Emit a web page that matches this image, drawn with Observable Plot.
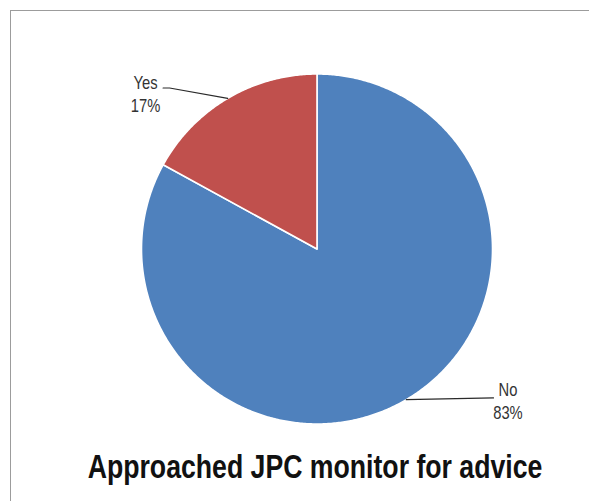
<!DOCTYPE html>
<html>
<head>
<meta charset="utf-8">
<script src="https://cdn.jsdelivr.net/npm/d3@7"></script>
<script src="https://cdn.jsdelivr.net/npm/@observablehq/plot@0.6"></script>
<style>
  body { margin: 0; background: #fff; width: 589px; height: 501px; overflow: hidden; position: relative; }
  #frame { position: absolute; left: 10px; top: 10px; width: 640px; height: 560px; border: 1.5px solid #9c9c9c; box-sizing: border-box; }
  #chart { position: absolute; left: 0; top: 0; }
  #title {
    position: absolute; left: 0; top: 447px; width: 630px; text-align: center;
    font-family: "Liberation Sans", Arial, sans-serif;
    font-weight: bold; font-size: 32.5px; line-height: 40px; color: #111;
    transform: scaleX(0.82); transform-origin: 315px 0;
    white-space: nowrap;
  }
</style>
</head>
<body>
<div id="frame"></div>
<div id="chart"></div>
<div id="title">Approached JPC monitor for advice</div>
<script>
// Responses to "Approached JPC monitor for advice"
const categories = ["No", "Yes"];
const shares = [83, 17];
const sliceColors = ["#4F81BD", "#C0504D"];

// Callout text anchors (unit-circle coordinates) and leader-line bends
const labelSpots = { No: [1.088, -0.969], Yes: [-0.977, 0.783] };
const leaderEnds = { No: [[1.006, -0.851]], Yes: [[-0.84, 0.92], [-0.877, 0.92]] };

const rows = categories.map((name, i) => ({ name, value: shares[i] }));
const arcs = d3.pie().sort(null).value(d => d.value)(rows);

// Polygon outline for each slice: centre, arc samples, back to centre
const slicePts = arcs.flatMap(a => {
  const pts = [{ name: a.data.name, x: 0, y: 0 }];
  const n = Math.max(2, Math.ceil((a.endAngle - a.startAngle) / (Math.PI / 360)));
  for (let k = 0; k <= n; k++) {
    const t = a.startAngle + (a.endAngle - a.startAngle) * k / n;
    pts.push({ name: a.data.name, x: Math.sin(t), y: Math.cos(t) });
  }
  pts.push({ name: a.data.name, x: 0, y: 0 });
  return pts;
});

// Leader lines start on the rim at each slice's mid-angle
const leaderPts = arcs.flatMap(a => {
  const mid = (a.startAngle + a.endAngle) / 2;
  const name = a.data.name;
  return [{ name, x: Math.sin(mid), y: Math.cos(mid) },
          ...leaderEnds[name].map(([x, y]) => ({ name, x, y }))];
});

const labels = arcs.map(a => ({
  name: a.data.name,
  x: labelSpots[a.data.name][0],
  y: labelSpots[a.data.name][1],
  text: `${a.data.name}\n${a.data.value}%`
}));

const chart = Plot.plot({
  width: 589,
  height: 440,
  margin: 0,
  style: { background: "transparent", overflow: "visible" },
  x: { domain: [-1, 1], range: [141, 492], axis: null },
  y: { domain: [-1, 1], range: [423.5, 73.5], axis: null },
  color: { domain: categories, range: sliceColors },
  marks: [
    Plot.line(slicePts, {
      x: "x", y: "y", z: "name", fill: "name",
      stroke: "#ffffff", strokeWidth: 1.6, strokeLinejoin: "round"
    }),
    Plot.line(leaderPts, { x: "x", y: "y", z: "name", stroke: "#2a2a2a", strokeWidth: 1.2 }),
    Plot.text(labels, {
      x: "x", y: "y", text: "text",
      textAnchor: "middle", lineAnchor: "bottom", lineHeight: 1.25,
      fontSize: 18, fill: "#333333",
      fontFamily: "'Liberation Sans', Arial, sans-serif",
      className: "callout"
    })
  ]
});

// Narrow the callout lettering horizontally around each anchor point
chart.querySelectorAll(".callout text").forEach(el => {
  let t = el.getAttribute("transform") || "";
  const x = el.getAttribute("x"), y = el.getAttribute("y");
  if (x !== null || y !== null) {
    t = `translate(${x || 0},${y || 0}) ` + t;
    el.removeAttribute("x"); el.removeAttribute("y");
  }
  el.setAttribute("transform", `${t} scale(0.82,1)`);
});

document.getElementById("chart").appendChild(chart);
</script>
</body>
</html>
